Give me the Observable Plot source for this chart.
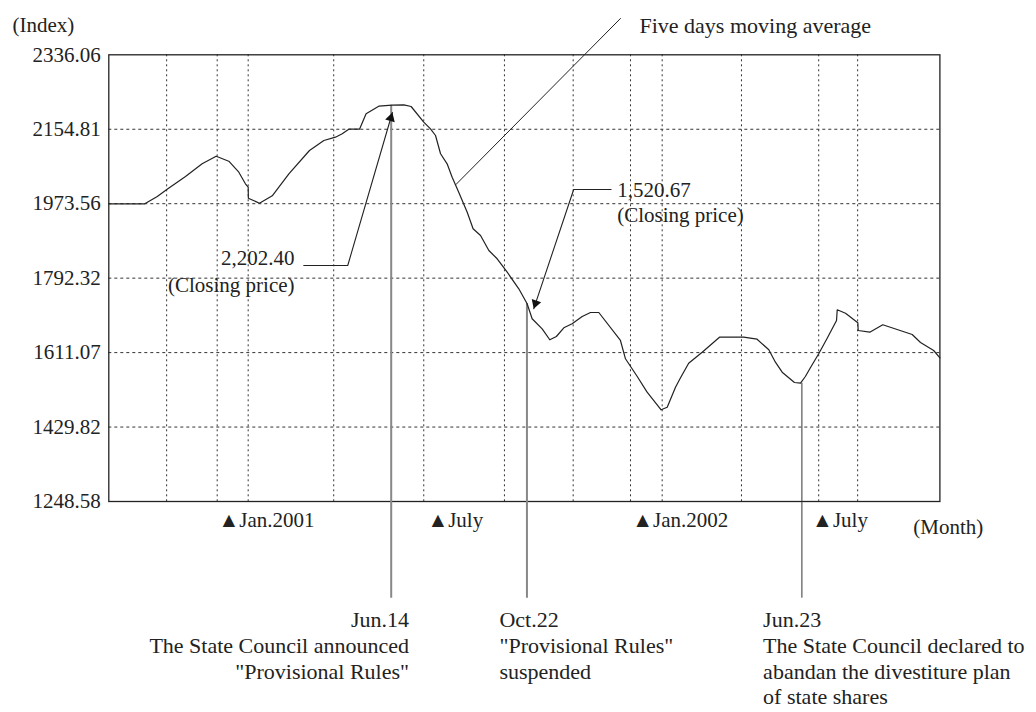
<!DOCTYPE html>
<html><head><meta charset="utf-8">
<script src="https://cdn.jsdelivr.net/npm/d3@7"></script>
<script src="https://cdn.jsdelivr.net/npm/@observablehq/plot@0.6"></script>
<style>body{margin:0;background:#fff}</style>
</head><body><div id="chart"></div>
<script>
// ---- data (x = trading-day index along the axis, y = Shanghai index) ----
const dayIndex = [
  0,20.8,28.0,33.7,44.3,53.9,62.0,69.3,75.1,78.9,
  80.5,80.6,87.0,94.4,104.0,115.9,124.2,130.9,134.8,138.6,
  144.8,148.6,155.9,163.7,170.4,174.6,181.9,185.8,188.7,191.6,
  195.4,198.3,202.1,207.0,210.4,214.7,219.5,224.3,230.1,236.8,
  241.6,244.5,250.3,254.7,258.5,262.8,267.6,273.4,278.2,283.0,
  295.5,298.4,305.2,310.9,319.0,322.5,327.3,330.2,334.9,342.7,
  352.7,366.7,374.4,381.2,385.0,388.9,396.0,399.5,402.3,405.2,
  410.0,414.9,420.3,420.7,425.5,432.6,432.8,439.5,447.0,455.3,
  464.0,468.8,476.4,480
];
const indexValue = [
  1973.3,1973.3,1991.1,2008.9,2039.8,2070.7,2089.2,2077.0,2050.3,2022.0,
  2013.7,1987.0,1974.8,1992.8,2046.4,2103.1,2127.4,2135.5,2143.7,2154.9,
  2154.9,2192.4,2210.9,2213.4,2214.3,2210.2,2172.0,2155.9,2139.6,2095.1,
  2070.7,2038.1,2001.6,1952.9,1912.5,1896.2,1859.7,1839.5,1806.8,1766.4,
  1729.9,1693.4,1669.0,1642.3,1650.3,1671.5,1681.2,1699.0,1708.7,1708.7,
  1640.6,1596.0,1552.9,1514.7,1471.9,1478.2,1526.9,1549.8,1585.3,1612.1,
  1648.6,1648.6,1643.7,1617.9,1587.7,1563.4,1538.3,1536.6,1552.9,1574.1,
  1608.2,1646.2,1689.3,1715.3,1707.0,1683.7,1664.9,1660.8,1678.8,1667.3,
  1655.2,1635.7,1616.2,1598.4
];
const yTicks = [1248.58,1429.82,1611.07,1792.32,1973.56,2154.81,2336.06];
const gridDays = [33.4,62.6,80.5,129.9,181.9,228.5,268.2,301.3,319.6,365.4,410.0,432.5];
const monthLabels = ["\u25B2Jan.2001","\u25B2July","\u25B2Jan.2002","\u25B2July"];
const monthDays = [63.4,184.0,302.3,406.2];
const monthLabelY = 1202.4;

const eventDays = [163.1,241.5,400.3];
const eventTops = [2213.4,1730.6,1536.6];
const eventBottom = 1013.2;
const eventCaptions = [
  "Jun.14\nThe State Council announced\n\"Provisional Rules\"",
  "Oct.22\n\"Provisional Rules\"\nsuspended",
  "Jun.23\nThe State Council declared to\nabandan the divestiture plan\nof state shares"
];
const captionDays = [173.4,225.6,377.9];
const captionY = 987.4;

// closing-price callouts
const peakLeaderDays = [112.6,138.0,163.8];
const peakLeaderVals = [1823.1,1823.1,2195.6];
const peakLabel = ["2,202.40","(Closing price)"];
const peakLabelDay = 107.3;
const peakLabelVals = [1840.2,1774.4];

const dropLeaderDays = [290.1,268.5,245.4];
const dropLeaderVals = [2008.2,2008.2,1717.7];
const dropLabel = ["1,520.67","(Closing price)"];
const dropLabelDay = 293.6;
const dropLabelVals = [2005.7,1944.8];

const maLeaderDays = [200.5,295.5];
const maLeaderVals = [2020.3,2424.4];
const maLabel = "Five days moving average";
const maLabelDay = 306.5, maLabelVal = 2407.4;
const yUnitLabel = "(Index)", yUnitDay = -55.6, yUnitVal = 2407.4;
const xUnitLabel = "(Month)", xUnitDay = 464.6, xUnitVal = 1186.0;

// ---- build ----
const W = 1036, H = 712, mL = 108.3, mR = 96.6, mT = 54.3, mB = 211;
const xDom = [0,480], yDom = [1248.58,2336.06];
const series = dayIndex.map((d,i) => ({t:d, v:indexValue[i]}));
const events = eventDays.map((d,i) => ({t:d, top:eventTops[i]}));
const captions = eventCaptions.map((c,i) => ({t:captionDays[i], text:c}));
const ticksX = monthLabels.map((l,i) => ({t:monthDays[i], text:l}));
const peakLeader = peakLeaderDays.map((d,i) => ({t:d, v:peakLeaderVals[i]}));
const dropLeader = dropLeaderDays.map((d,i) => ({t:d, v:dropLeaderVals[i]}));
const maLeader = maLeaderDays.map((d,i) => ({t:d, v:maLeaderVals[i]}));

// arrowhead orientation (pixel direction of the last leader segment)
const sx = d3.scaleLinear(xDom,[mL, W-mR]);
const sy = d3.scaleLinear(yDom,[H-mB, mT]);
function head(leader){
  const a = leader[leader.length-2], b = leader[leader.length-1];
  const ux0 = sx(b.t)-sx(a.t), uy0 = sy(b.v)-sy(a.v);
  const L = Math.hypot(ux0,uy0), ux = ux0/L, uy = uy0/L;
  const back = 5.8;
  return Plot.dot([b], {x:"t", y:"v", symbol:"triangle", r:3.7, fill:"#111", stroke:"none",
    rotate: Math.atan2(ux,-uy)*180/Math.PI, dx:-back*ux, dy:-back*uy});
}

const chart = Plot.plot({
  width:W, height:H, marginLeft:mL, marginRight:mR, marginTop:mT, marginBottom:mB,
  style:{fontFamily:"'Liberation Serif', 'DejaVu Serif', serif", fontSize:"21px", color:"#222", background:"#fff"},
  x:{domain:xDom, axis:null},
  y:{domain:yDom, axis:null},
  marks:[
    Plot.ruleY(yTicks.slice(1,-1), {stroke:"#333", strokeWidth:1, strokeDasharray:"3,3"}),
    Plot.ruleX(gridDays, {stroke:"#333", strokeWidth:1, strokeDasharray:"2,3"}),
    Plot.frame({stroke:"#222", strokeWidth:1.3}),
    Plot.axisY(yTicks, {tickSize:0, tickPadding:8, tickFormat:d=>d.toFixed(2), fontSize:21, label:null}),
    Plot.ruleX(events.slice(0,2), {x:"t", y1:"top", y2:eventBottom, stroke:"#888", strokeWidth:2}),
    Plot.ruleX(events.slice(2), {x:"t", y1:"top", y2:eventBottom, stroke:"#333", strokeWidth:1}),
    Plot.line(series, {x:"t", y:"v", stroke:"#222", strokeWidth:1.2}),
    Plot.line(maLeader, {x:"t", y:"v", stroke:"#222", strokeWidth:1}),
    Plot.line(peakLeader, {x:"t", y:"v", stroke:"#222", strokeWidth:1.1}),
    Plot.line(dropLeader, {x:"t", y:"v", stroke:"#222", strokeWidth:1.1}),
    head(peakLeader),
    head(dropLeader),
    Plot.text(peakLabel, {x:()=>peakLabelDay, y:(d,i)=>peakLabelVals[i], text:d=>d, textAnchor:"end"}),
    Plot.text(dropLabel, {x:()=>dropLabelDay, y:(d,i)=>dropLabelVals[i], text:d=>d, textAnchor:"start"}),
    Plot.text([maLabel], {x:()=>maLabelDay, y:()=>maLabelVal, text:d=>d, textAnchor:"start", fontSize:22}),
    Plot.text([yUnitLabel], {x:()=>yUnitDay, y:()=>yUnitVal, text:d=>d, textAnchor:"start"}),
    Plot.text([xUnitLabel], {x:()=>xUnitDay, y:()=>xUnitVal, text:d=>d, textAnchor:"start"}),
    Plot.text(ticksX, {x:"t", y:()=>monthLabelY, text:"text", textAnchor:"start"}),
    Plot.text(captions.slice(0,1), {x:"t", y:()=>captionY, text:"text", textAnchor:"end", lineAnchor:"top", lineHeight:1.17, fontSize:22}),
    Plot.text(captions.slice(1), {x:"t", y:()=>captionY, text:"text", textAnchor:"start", lineAnchor:"top", lineHeight:1.17, fontSize:22})
  ]
});
document.getElementById("chart").appendChild(chart);
</script>
</body></html>
